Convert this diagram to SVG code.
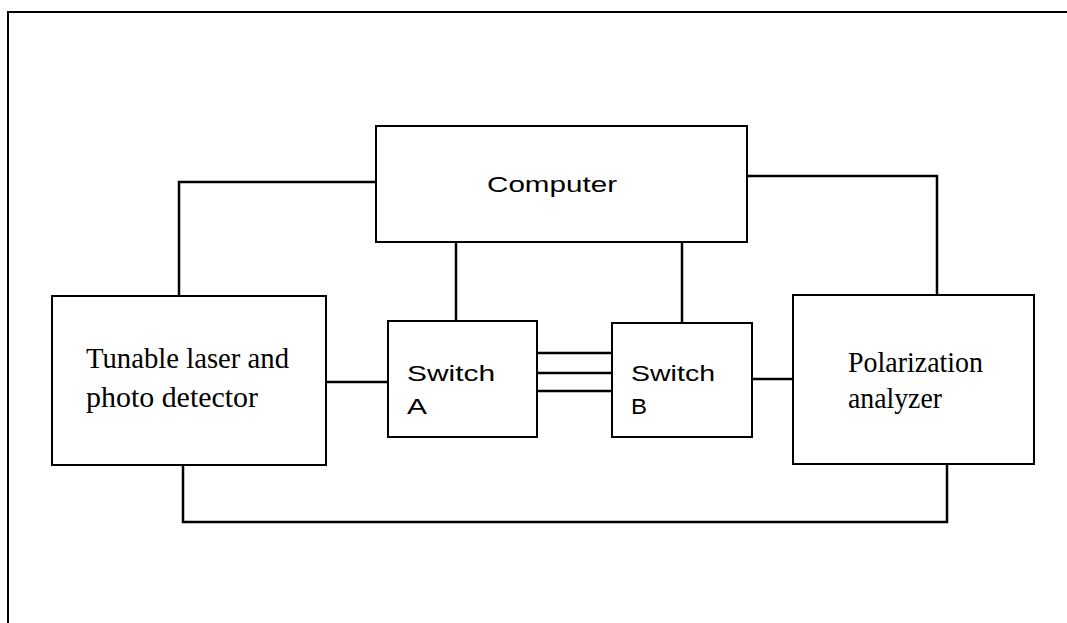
<svg xmlns="http://www.w3.org/2000/svg" width="1067" height="623" viewBox="0 0 1067 623">
<style>
.box{fill:#fff;stroke:#000;stroke-width:2}
.wire{fill:none;stroke:#000;stroke-width:2.5}
.sans{font-family:"Liberation Sans",Arial,sans-serif;font-size:22px;fill:#000}
.serif{font-family:"Liberation Serif","Times New Roman",serif;font-size:29px;fill:#000}
</style>
<rect width="1067" height="623" fill="#fff"/>
<path d="M1070,12 H8 V630" fill="none" stroke="#000" stroke-width="2"/>
<g id="connectors">
<path class="wire" d="M376,182 H179 V296"/>
<path class="wire" d="M747,176 H937 V295"/>
<path class="wire" d="M456,242 V321"/>
<path class="wire" d="M682,242 V323"/>
<path class="wire" d="M326,382 H388"/>
<path class="wire" d="M537,353 H612"/>
<path class="wire" d="M536,373 H612"/>
<path class="wire" d="M537,391 H612"/>
<path class="wire" d="M752,379 H793"/>
<path class="wire" d="M183,465 V522 H947 V464"/>
</g>
<g id="computer">
<rect class="box" x="376" y="126" width="371" height="116"/>
<text class="sans" x="487" y="192" textLength="130" lengthAdjust="spacingAndGlyphs">Computer</text>
</g>
<g id="laser">
<rect class="box" x="52" y="296" width="274" height="169"/>
<text class="serif" x="86" y="368" textLength="203" lengthAdjust="spacingAndGlyphs">Tunable laser and</text>
<text class="serif" x="86" y="407" textLength="172" lengthAdjust="spacingAndGlyphs">photo detector</text>
</g>
<g id="switchA">
<rect class="box" x="388" y="321" width="149" height="116"/>
<text class="sans" x="407" y="381" textLength="88" lengthAdjust="spacingAndGlyphs">Switch</text>
<text class="sans" x="407" y="414" textLength="20" lengthAdjust="spacingAndGlyphs">A</text>
</g>
<g id="switchB">
<rect class="box" x="612" y="323" width="140" height="114"/>
<text class="sans" x="631" y="381" textLength="84" lengthAdjust="spacingAndGlyphs">Switch</text>
<text class="sans" x="631" y="414" textLength="16" lengthAdjust="spacingAndGlyphs">B</text>
</g>
<g id="polarization">
<rect class="box" x="793" y="295" width="241" height="169"/>
<text class="serif" x="848" y="372" textLength="135" lengthAdjust="spacingAndGlyphs">Polarization</text>
<text class="serif" x="848" y="408" textLength="94" lengthAdjust="spacingAndGlyphs">analyzer</text>
</g>
</svg>
